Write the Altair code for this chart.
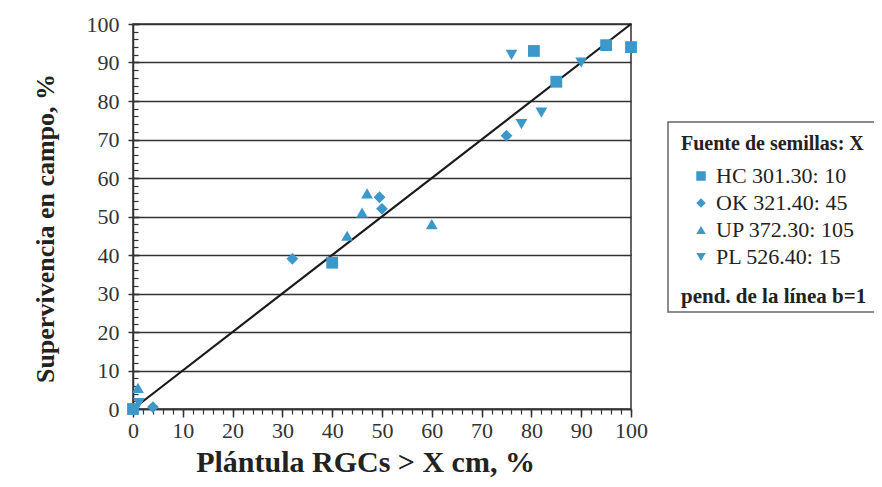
import altair as alt
import pandas as pd

BLUE = "#3c98c9"
FONT = "'Liberation Serif', 'DejaVu Serif', serif"

series = ["HC 301.30: 10", "OK 321.40: 45", "UP 372.30: 105", "PL 526.40: 15"]
shapes = ["square", "diamond", "triangle-up", "triangle-down"]

hc_x = [0, 40, 80.5, 85, 95, 100]
hc_y = [0, 38, 93, 85, 94.5, 94]
ok_x = [32, 49.5, 50, 75, 4]
ok_y = [39, 55, 52, 71, 0.5]
up_x = [1, 43, 46, 47, 60]
up_y = [5.5, 45, 51, 56, 48]
pl_x = [76, 78, 82, 90, 1.2]
pl_y = [92, 74, 77, 90, 1.5]

line_x = [0, 100]
line_y = [0, 100]

rows = []
for name, xs, ys in zip(series, [hc_x, ok_x, up_x, pl_x], [hc_y, ok_y, up_y, pl_y]):
    for a, b in zip(xs, ys):
        rows.append({"x": a, "y": b, "serie": name})
df = pd.DataFrame(rows)
line_df = pd.DataFrame({"x": line_x, "y": line_y})

xscale = alt.Scale(domain=[0, 100], nice=False, zero=False)
yscale = alt.Scale(domain=[0, 100], nice=False, zero=False)

major = list(range(0, 101, 10))
minor = list(range(0, 101, 2))

points = alt.Chart(df).mark_point(filled=True, size=140, opacity=1, color=BLUE).encode(
    x=alt.X("x:Q", scale=xscale, axis=alt.Axis(
        orient="bottom", values=major, title="Plántula RGCs > X cm, %", grid=False,
        labelFlush=False, labelOverlap=False,
        tickSize=8, tickColor="#333", tickWidth=1.5, domainColor="#333", domainWidth=1.5,
        labelFont=FONT, labelFontSize=22, labelColor="#333", labelPadding=3,
        titleFont=FONT, titleFontSize=30, titleFontWeight="bold", titleColor="#222",
        titlePadding=6, titleX=232, titleAnchor="middle", titleAlign="center")),
    y=alt.Y("y:Q", scale=yscale, axis=alt.Axis(
        orient="left", values=major, title="Supervivencia en campo, %", grid=True,
        gridColor="#333", gridWidth=1.3, labelFlush=False, labelOverlap=False,
        tickSize=5, tickColor="#333", tickWidth=1.5, domainColor="#333", domainWidth=1.5,
        labelFont=FONT, labelFontSize=22, labelColor="#333", labelPadding=9,
        titleFont=FONT, titleFontSize=26, titleFontWeight="bold", titleColor="#222",
        titlePadding=28, titleY=204, titleAnchor="middle", titleAlign="center")),
    shape=alt.Shape("serie:N", scale=alt.Scale(domain=series, range=shapes), legend=alt.Legend(
        title="Fuente de semillas: X", orient="none", legendX=548, legendY=110,
        titleFont=FONT, titleFontSize=20, titleFontWeight="bold", titleColor="#222",
        titleLimit=500, labelLimit=500,
        titlePadding=11, labelFont=FONT, labelFontSize=22, labelColor="#222",
        symbolOffset=9, labelOffset=4, symbolSize=90, symbolFillColor=BLUE,
        symbolStrokeColor=BLUE, rowPadding=5, padding=0)),
)

minor_layer = alt.Chart(df).mark_point(opacity=0).encode(
    x=alt.X("x:Q", scale=xscale, axis=alt.Axis(
        orient="bottom", values=minor, labels=False, domain=False, grid=False, title=None,
        tickSize=5, tickColor="#333", tickWidth=1.2)),
    y=alt.Y("y:Q", scale=yscale, axis=alt.Axis(
        orient="left", values=minor, labels=False, domain=False, grid=False, title=None,
        offset=-5, tickSize=5, tickColor="#333", tickWidth=1.2)),
)

inner_major = alt.Chart(df).mark_point(opacity=0).encode(
    x=alt.X("x:Q", scale=xscale, axis=None),
    y=alt.Y("y:Q", scale=yscale, axis=alt.Axis(
        orient="left", values=major, labels=False, domain=False, grid=False, title=None,
        offset=-6, tickSize=6, tickColor="#333", tickWidth=1.5)),
)

diag = alt.Chart(line_df).mark_line(color="#1a1a1a", strokeWidth=2.2).encode(
    x=alt.X("x:Q", scale=xscale, axis=None),
    y=alt.Y("y:Q", scale=yscale, axis=None),
)

box = alt.Chart(pd.DataFrame({"k": [0]})).mark_rect(
    fill="white", stroke="#666", strokeWidth=1.5
).encode(x=alt.value(535), x2=alt.value(760), y=alt.value(98), y2=alt.value(288))

footer = alt.Chart(pd.DataFrame({"t": ["pend. de la línea b=1"]})).mark_text(
    font=FONT, fontSize=21, fontWeight="bold", color="#222", align="left", baseline="middle"
).encode(text="t:N", x=alt.value(548), y=alt.value(273))

chart = alt.layer(box, minor_layer, inner_major, diag, points, footer).resolve_axis(
    x="independent", y="independent"
).properties(
    width=498, height=385,
    autosize=alt.AutoSizeParams(type="none"),
    padding={"left": 125, "top": 16, "right": 243, "bottom": 70},
).configure_view(stroke="#333", strokeWidth=1.5)

chart.save("out.html", embed_options={"renderer": "svg", "actions": False})
